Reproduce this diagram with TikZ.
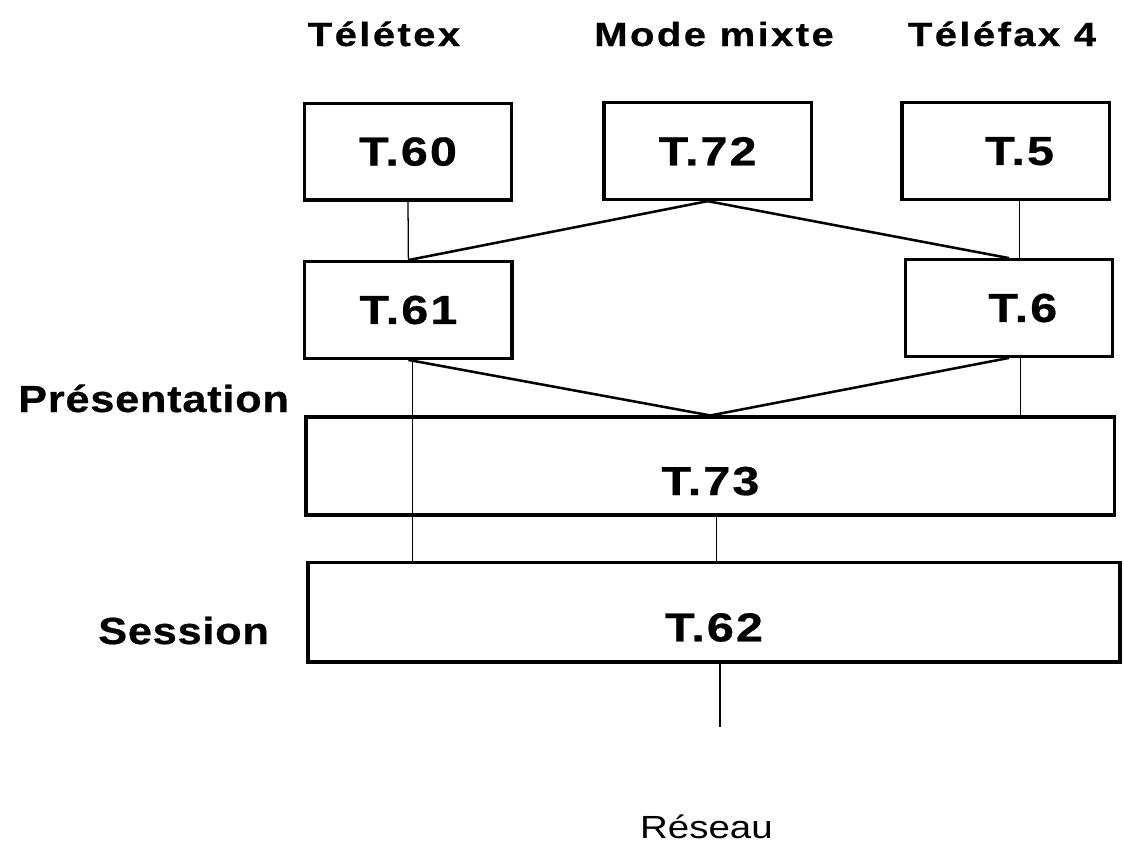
\documentclass[tikz,border=0pt]{standalone}
\usepackage{fontspec}
\setmainfont{Liberation Sans}
\usepackage{tikz}
\usetikzlibrary{positioning, calc}

\begin{document}
\begin{tikzpicture}[
		box/.style={draw, line width=2.2pt, minimum width=5.18cm, minimum height=2.42cm, inner sep=0pt,
			font=\bfseries\fontsize{28.8}{30}\selectfont\addfontfeature{FakeStretch=1.2, LetterSpace=5, FakeBold=0.6}},
		layer/.style={box, text height=1.45cm, text depth=0pt},
		title/.style={anchor=base, inner sep=0pt, font=\bfseries\fontsize{23.8}{26}\selectfont\addfontfeature{FakeStretch=1.2, LetterSpace=7, FakeBold=0.6}},
		level/.style={anchor=base, inner sep=0pt, font=\bfseries\fontsize{26.8}{28}\selectfont\addfontfeature{FakeStretch=1.15, LetterSpace=2, FakeBold=0.6}},
		link/.style={line width=0.9pt},
		cross/.style={line width=1.8pt}
	]
				\useasboundingbox (0,0) rectangle (28.1,-21.175);
				
				\node[title] (teletex) at (9.6,-1.15) {Télétex};
				\node[title] (mixte) at (17.85,-1.15) {Mode mixte};
				\node[title] (telefax) at (25.05,-1.15) {Téléfax 4};
				
				\node[box] (T60) at (10.2,-3.79) {T.60};
				\node[box] (T72) at (17.69,-3.78) {T.72};
				\node[box] (T5) at (25.14,-3.78) {\hspace*{0.7cm}T.5};
				\node[box] (T61) at (10.21,-7.75) {T.61};
				\node[box] (T6) at (25.22,-7.7) {\hspace*{0.7cm}T.6};
				
				\node[layer, minimum width=20.22cm, minimum height=2.45cm] (T73) at (17.76,-11.65) {T.73};
				\node[layer, minimum width=20.3cm, minimum height=2.48cm] (T62) at (17.85,-15.31) {T.62};
				
				\node[level] (pres) at (3.84,-10.3) {Présentation};
				\node[level] (sess) at (4.59,-16.1) {Session};
				\node[anchor=base, inner sep=0pt, text depth=0pt, font=\fontsize{22.8}{24}\selectfont\addfontfeature{FakeStretch=1.2}] (reseau) at (17.66,-20.95) {Réseau};
				\coordinate (net) at (18,-18.18);
				
				\draw[link] (T60.south) -- (T61.north);
				\draw[link] ([xshift=0.35cm]T5.south) -- ([xshift=0.35cm]T5.south |- T6.north);
				\draw[cross] (T72.south) -- (T61.north);
				\draw[cross] (T72.south) -- (T6.north);
				\draw[cross] (T61.south) -- (T73.north);
				\draw[cross] (T6.south) -- (T73.north);
				\draw[link] ([xshift=0.1cm]T61.south) -- ([xshift=0.1cm]T61.south |- T62.north);
				\draw[link] ([xshift=0.3cm]T6.south) -- ([xshift=0.3cm]T6.south |- T73.north);
				\draw[link] ([xshift=0.15cm]T73.south) -- ([xshift=0.15cm]T73.south |- T62.north);
				\draw[link] ([xshift=0.15cm]T62.south) -- ([xshift=0.15cm]T62.south |- net);
			\end{tikzpicture}
\end{document}
